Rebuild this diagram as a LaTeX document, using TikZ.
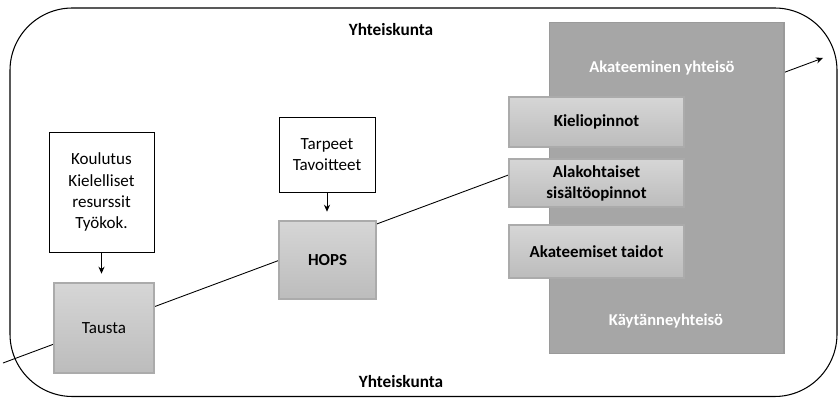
\documentclass[tikz,border=0pt]{standalone}
\usepackage{fontspec}
\setmainfont{Carlito}
\usepackage{tikz}
\usetikzlibrary{arrows.meta,positioning}

\definecolor{yhteisogray}{HTML}{A6A6A6}
\definecolor{yhteisoline}{HTML}{9A9A9A}
\definecolor{boxtop}{HTML}{D6D6D6}
\definecolor{boxbottom}{HTML}{BCBCBC}
\definecolor{boxline}{HTML}{ABABAB}

\begin{document}
\begin{tikzpicture}[
      x=0.02cm, y=-0.02cm,
      textbox/.style={rectangle, draw=black, fill=white, line width=0.5pt, align=center, font=\fontsize{9.7}{12}\selectfont},
      graybox/.style={rectangle, draw=boxline, line width=0.6pt, top color=boxtop, bottom color=boxbottom, align=center, font=\fontsize{9.7}{12}\selectfont},
      studybox/.style={graybox, minimum width=3.5cm, font=\bfseries\fontsize{9.6}{12}\selectfont},
      arrow/.style={-{Stealth[length=4pt,width=3.5pt]}, line width=0.5pt}
    ]
      \useasboundingbox (0,0) rectangle (838,398);

      % Yhteiskunta
      \draw[line width=0.6pt, rounded corners=1.25cm] (10,8) rectangle (837,396.5);
      \node[font=\bfseries\fontsize{9.8}{12}\selectfont] (ylaotsikko) at (391,30) {Yhteiskunta};
      \node[font=\bfseries\fontsize{9.8}{12}\selectfont] (alaotsikko) at (401,382) {Yhteiskunta};

      % Polku
      \coordinate (alku) at (3,363);
      \coordinate (loppu) at (823,58);
      \draw[arrow] (alku) -- (loppu);

      % Akateeminen yhteisö
      \node[rectangle, draw=yhteisoline, fill=yhteisogray, line width=0.6pt, minimum width=4.7cm, minimum height=6.64cm] (akat) at (666.5,188) {};
      \node[text=white, font=\bfseries\fontsize{9.4}{12}\selectfont] (akatotsikko) at (662,68) {Akateeminen yhteisö};
      \node[text=white, font=\bfseries\fontsize{9.4}{12}\selectfont] (kaytanne) at (666,321) {Käytänneyhteisö};

      % Opinnot
      \node[studybox, minimum height=1cm] (kieli) at (596.5,122) {Kieliopinnot};
      \node[studybox, minimum height=0.96cm] (ala) at (596.5,183) {Alakohtaiset\\sisältöopinnot};
      \node[studybox, minimum height=1.06cm] (taidot) at (596.5,251.5) {Akateemiset taidot};

      % Tausta ja HOPS
      \node[textbox, minimum width=2.1cm, minimum height=2.4cm] (koulutus) at (101.5,192) {Koulutus\\Kielelliset\\resurssit\\Työkok.};
      \node[graybox, minimum width=2cm, minimum height=1.8cm] (tausta) at (104,328) {Tausta};
      \node[textbox, minimum width=1.92cm, minimum height=1.5cm] (tarpeet) at (327,154.5) {Tarpeet\\Tavoitteet};
      \node[graybox, minimum width=1.94cm, minimum height=1.56cm, font=\bfseries\fontsize{9.6}{12}\selectfont] (hops) at (327.5,260) {HOPS};

      % Nuolet
      \draw[arrow, shorten >=5pt] (koulutus.south) -- (koulutus.south |- tausta.north);
      \draw[arrow, shorten >=5pt] (tarpeet.south) -- (tarpeet.south |- hops.north);

\end{tikzpicture}
\end{document}
